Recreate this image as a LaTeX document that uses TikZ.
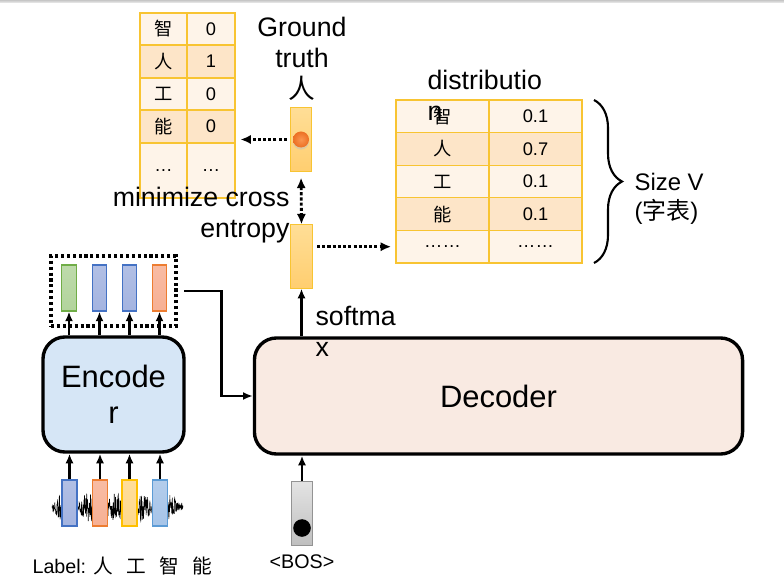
\documentclass[tikz,border=0pt]{standalone}
\usepackage{fontspec}
\setmainfont{Liberation Sans}
\newfontfamily\cjk{Noto Sans CJK SC}
\usetikzlibrary{arrows.meta,decorations.pathreplacing}

\definecolor{cellA}{RGB}{254,244,233}
\definecolor{cellB}{RGB}{253,229,200}
\definecolor{tabline}{RGB}{248,196,50}
\definecolor{barTop}{RGB}{255,222,150}
\definecolor{barBot}{RGB}{255,206,112}
\definecolor{encfill}{RGB}{214,230,246}
\definecolor{decfill}{RGB}{249,234,226}
\definecolor{ballorange}{RGB}{236,112,36}
\definecolor{balllight}{RGB}{250,150,80}
\definecolor{gfill}{RGB}{178,212,156}\definecolor{gline}{RGB}{112,173,71}
\definecolor{bfill}{RGB}{164,180,224}\definecolor{bline}{RGB}{68,114,196}
\definecolor{ofill}{RGB}{247,176,148}\definecolor{oline}{RGB}{237,125,49}
\definecolor{yfill}{RGB}{255,216,138}\definecolor{yline}{RGB}{255,192,0}
\definecolor{lbfill}{RGB}{166,196,232}\definecolor{lbline}{RGB}{91,155,213}

\begin{document}
\begin{tikzpicture}[x=0.025cm,y=-0.025cm,line width=0.8pt,>=Stealth,
  tabcell/.style={draw=tabline,line width=0.9pt,inner sep=0pt,font=\fontsize{13}{15}\selectfont},
  probbar/.style={draw=tabline,line width=0.8pt,top color=barTop,bottom color=barBot,
    minimum width=0.54cm,minimum height=1.58cm,inner sep=0pt},
  featbar/.style={line width=0.8pt,minimum width=0.36cm,minimum height=1.15cm,inner sep=0pt},
  block/.style={draw,line width=2.4pt,rounded corners=0.55cm,inner sep=0pt,
    font=\fontsize{22}{26}\selectfont,align=center},
  lbl/.style={inner sep=0pt,font=\fontsize{19}{22}\selectfont},
  dotarrow/.style={line width=2pt,dash pattern=on 2.2pt off 1.5pt,-{Latex[length=2.6mm,width=2.3mm]}},
  solidarrow/.style={line width=1.6pt,-{Latex[length=2.4mm,width=2mm]}}]
\useasboundingbox (0,0) rectangle (784,584);
\fill[top color=gray!45,bottom color=gray!12] (0,0) rectangle (784,3);
% ---------- ground truth (one-hot) ----------
\foreach \ch/\val/\y/\h/\c [count=\i] in {{\cjk 智}/0/29/32/cellA,{\cjk 人}/1/61.5/33/cellB,{\cjk 工}/0/94/32/cellA,{\cjk 能}/0/126.5/33/cellB,…/…/170.5/55/cellA}{
  \node[tabcell,fill=\c,minimum width=1.175cm,minimum height=\h*0.025cm] (gt-\i-1) at (163.5,\y) {\ch};
  \node[tabcell,fill=\c,minimum width=1.2cm,minimum height=\h*0.025cm] (gt-\i-2) at (211,\y) {\val};}
% ---------- predicted distribution ----------
\foreach \ch/\val [count=\i] in {{\cjk 智}/0.1,{\cjk 人}/0.7,{\cjk 工}/0.1,{\cjk 能}/0.1,……/……}{
  \ifodd\i\def\c{cellA}\else\def\c{cellB}\fi
  \node[tabcell,fill=\c,minimum width=2.325cm,minimum height=0.815cm] (dist-\i-1) at (442.5,{100+(\i-0.5)*32.6}) {\ch};
  \node[tabcell,fill=\c,minimum width=2.325cm,minimum height=0.815cm] (dist-\i-2) at (535.5,{100+(\i-0.5)*32.6}) {\val};}
\draw[decorate,decoration={brace,amplitude=0.7cm},line width=1.5pt] (594,100) -- (594,263);
% ---------- output bars ----------
\node[probbar] (ub) at (301,139.5) {};
\fill[black!25,opacity=0.5] ([yshift=-1.5pt]ub.center) circle (0.2cm);
\shade[inner color=balllight,outer color=ballorange] (ub.center) circle (0.2cm);
\node[probbar] (lb) at (301.5,256.5) {};
\draw[dotarrow,shorten <=2pt] (ub.west) -- ([xshift=0.12cm]ub.west -| gt-4-2.east);
\draw[dotarrow,{Latex[length=2.6mm,width=2.3mm]}-{Latex[length=2.6mm,width=2.3mm]},shorten <=0.15cm] (ub.south) -- (lb.north);
\draw[dotarrow,shorten <=3pt,shorten >=3pt] (lb.east |- dist-5-1.west) -- (dist-5-1.west);
% ---------- encoder / decoder ----------
\node[block,fill=encfill,minimum width=3.525cm,minimum height=2.875cm] (enc) at (113.5,394.5) {Encode\\r};
\node[block,fill=decfill,minimum width=12.2cm,minimum height=2.9cm] (dec) at (498.5,396) {Decoder};
\node[draw,line width=2.2pt,dash pattern=on 2.2pt off 2pt,minimum width=3.125cm,minimum height=1.75cm] (feat) at (113.5,291) {};
\foreach \x/\f/\l [count=\i] in {69/gfill/gline,99.5/bfill/bline,129.5/bfill/bline,159.5/ofill/oline}{
  \node[featbar,draw=\l,top color=\f!85!white,bottom color=\f] (hb-\i) at (\x,288) {};
  \draw[solidarrow] (hb-\i.south |- enc.north) -- (hb-\i.south);}
\draw[line width=1.8pt,-{Latex[length=2.4mm,width=2mm]}] ([xshift=0.17cm]feat.east) -- ++(37,0) |- (dec.west);
% ---------- speech input ----------
\pgfmathsetseed{7}
\draw[line width=0.4pt] plot[domain=52:183,samples=420] (\x,{507+(1.5+13*abs(sin(7*\x)))*rand});
\foreach \x/\f/\l [count=\i] in {69.5/bfill/bline,100/ofill/oline,129.5/yfill/yline,160/lbfill/lbline}{
  \node[featbar,draw=\l,top color=\f!85!white,bottom color=\f,minimum width=0.375cm] (in-\i) at (\x,503) {};
  \draw[solidarrow] (in-\i.north) -- (in-\i.north |- enc.south);}
\node[draw=gray!85,line width=0.8pt,top color=gray!22,bottom color=gray!50,minimum width=0.54cm,minimum height=1.58cm,inner sep=0pt] (bos) at (302,513.5) {};
\fill (bos.center) ++(0,14.5) circle (0.22cm);
\draw[solidarrow] (bos.north) -- (bos.north |- dec.south);
\draw[solidarrow] (lb.south |- dec.north) -- (lb.south);
% ---------- labels ----------
\node[lbl,align=center,anchor=north] (gtlabel) at (302,17) {Ground\\truth\\{\cjk 人}};
\node[lbl,align=right,anchor=north east] (celabel) at (290,187) {minimize cross\\entropy};
\node[lbl,align=left,anchor=north west] (distlabel) at (427,70) {distributio\\n};
\node[lbl,align=left,anchor=north west] (smlabel) at (315,306) {softma\\x};
\node[lbl,align=left,anchor=north west,font=\fontsize{17}{20.6}\selectfont] (vlabel) at (634,173) {Size V\\({\cjk 字表})};
\node[inner sep=0pt,font=\fontsize{14}{16}\selectfont] (boslabel) at (302,562) {\textless BOS\textgreater};
\node[inner sep=0pt,anchor=west,font=\fontsize{14}{16}\selectfont] (seqlabel) at (32,566) {Label: {\cjk 人}\hspace{9.5pt}{\cjk 工}\hspace{9.5pt}{\cjk 智}\hspace{9.5pt}{\cjk 能}};
\end{tikzpicture}
\end{document}
